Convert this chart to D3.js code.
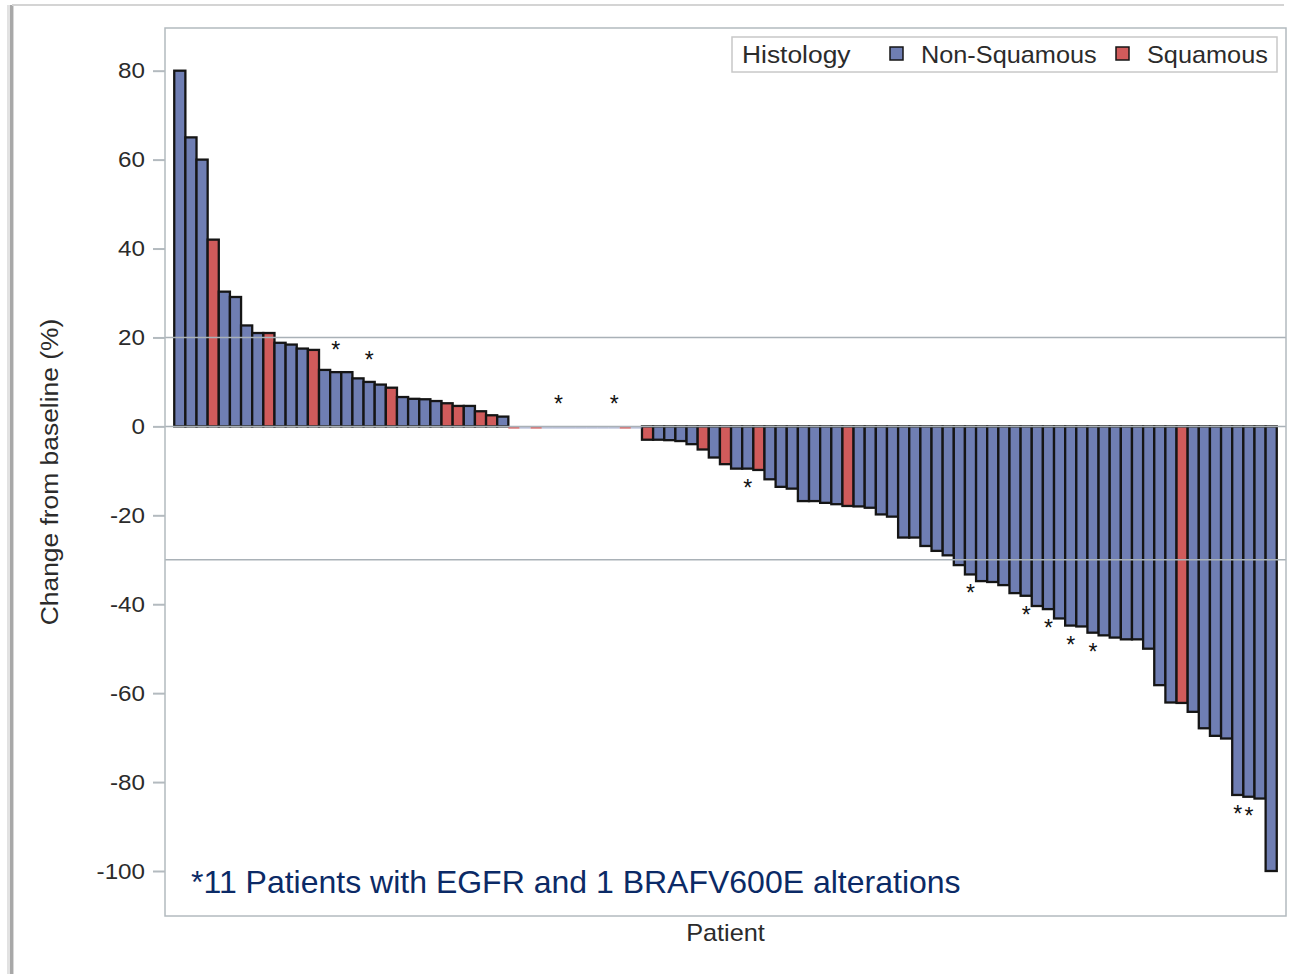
<!DOCTYPE html>
<html><head><meta charset="utf-8">
<script src="https://cdn.jsdelivr.net/npm/d3@7"></script>
<style>
body{margin:0;background:#fff;}
svg{display:block;}
text{font-family:"Liberation Sans",Arial,sans-serif;}
</style>
</head><body>
<svg id="chart" width="1294" height="974"></svg>
<script>
// ---------------- data ----------------
const patients = d3.range(1, 100);
const changes = [
  80, 65, 60, 42, 30.3, 29.1, 22.7, 21, 21, 18.8,
  18.4, 17.5, 17.2, 12.7, 12.2, 12.2, 10.8, 10, 9.4, 8.7,
  6.6, 6.2, 6.1, 5.7, 5.2, 4.6, 4.6, 3.4, 2.5, 2.2,
  0, 0, 0, 0, 0, 0, 0, 0, 0, 0,
  0, 0, -3, -3, -3.1, -3.3, -4, -5.2, -7, -8.5,
  -9.5, -9.5, -9.8, -11.9, -13.6, -14, -16.8, -16.8, -17.2, -17.5,
  -17.9, -18, -18.3, -19.8, -20.3, -25, -25, -26.9, -28, -29,
  -31.2, -33.3, -34.8, -35, -35.7, -37.5, -38.1, -40.4, -41.1, -43.2,
  -44.8, -45, -46.4, -47, -47.5, -47.9, -47.9, -50, -58.2, -62.1,
  -62.2, -64.2, -67.9, -69.6, -70.2, -82.9, -83.3, -83.7, -100
];
const histology = [
  "N","N","N","S","N","N","N","N","S","N",
  "N","N","S","N","N","N","N","N","N","S",
  "N","N","N","N","S","S","N","S","S","N",
  "S","N","S","N","N","N","N","N","N","N",
  "S","N","S","N","N","N","N","S","N","S",
  "N","N","S","N","N","N","N","N","N","N",
  "S","N","N","N","N","N","N","N","N","N",
  "N","N","N","N","N","N","N","N","N","N",
  "N","N","N","N","N","N","N","N","N","N",
  "S","N","N","N","N","N","N","N","N"
];
const alteredPatients = [15, 18, 35, 40, 52, 72, 77, 79, 81, 83, 96, 97];
const groupCodes = ["N", "S"];
const groupNames = ["Non-Squamous", "Squamous"];
const groupColors = ["#6F7EB3", "#D05B5B"];
const yTicks = [80, 60, 40, 20, 0, -20, -40, -60, -80, -100];
const refLines = [20, 0, -30];
const legendTitle = "Histology";
const xTitle = "Patient";
const yTitle = "Change from baseline (%)";
const footnote = "*11 Patients with EGFR and 1 BRAFV600E alterations";

// ---------------- layout ----------------
const svg = d3.select("#chart");
const P = {left: 165, top: 28, right: 1286, bottom: 916};
const SX = 1.1; // horizontal stretch of the original graph font
const color = d3.scaleOrdinal().domain(groupCodes).range(groupColors);

const x = d3.scaleBand().domain(patients).range([P.left, P.right])
  .paddingInner(0).paddingOuter(0.83);
const y = d3.scaleLinear().domain([-110.12, 89.6]).range([P.bottom, P.top]);

// helper for stretched text
function stext(g, tx, ty, str, size, anchor, rot) {
  return g.append("text")
    .attr("transform", `translate(${tx},${ty})` + (rot ? ` rotate(${rot})` : "") + ` scale(${SX},1)`)
    .attr("text-anchor", anchor || "start")
    .attr("font-size", size).attr("fill", "#2b2b2b").text(str);
}

// outer picture border
svg.append("rect").attr("x", 7).attr("y", 5).attr("width", 3).attr("height", 969).attr("fill", "#e2e2e2");
svg.append("rect").attr("x", 10).attr("y", 5).attr("width", 3).attr("height", 969).attr("fill", "#a8a8a8");
svg.append("rect").attr("x", 13).attr("y", 5).attr("width", 1).attr("height", 969).attr("fill", "#d8d8d8");
svg.append("rect").attr("x", 12).attr("y", 4).attr("width", 1272).attr("height", 2).attr("fill", "#d4d4d4");

const data = patients.map((p, i) => ({p, v: changes[i], h: histology[i], star: alteredPatients.includes(p)}));

// bars
const barG = svg.append("g");
barG.selectAll("rect.bar").data(data.filter(d => d.v !== 0)).join("rect")
  .attr("class", "bar")
  .attr("x", d => x(d.p))
  .attr("width", x.bandwidth())
  .attr("y", d => y(Math.max(0, d.v)))
  .attr("height", d => Math.abs(y(d.v) - y(0)))
  .attr("fill", d => color(d.h))
  .attr("stroke", "#151515")
  .attr("stroke-width", 2.3);

// zero-change bars drawn as a thin coloured sliver
barG.selectAll("rect.zero").data(data.filter(d => d.v === 0)).join("rect")
  .attr("class", "zero")
  .attr("x", d => x(d.p))
  .attr("width", x.bandwidth())
  .attr("y", y(0) + 0.5)
  .attr("height", 1.8)
  .attr("fill", d => color(d.h))
  .attr("opacity", d => d.h === "S" ? 0.85 : 0.45);

// reference lines
svg.append("g").selectAll("line").data(refLines).join("line")
  .attr("x1", P.left).attr("x2", P.right)
  .attr("y1", d => y(d)).attr("y2", d => y(d))
  .attr("stroke", "#a9b1b7").attr("stroke-width", 1.5);

// plot frame
svg.append("rect").attr("x", P.left).attr("y", P.top)
  .attr("width", P.right - P.left).attr("height", P.bottom - P.top)
  .attr("fill", "none").attr("stroke", "#b3babf").attr("stroke-width", 1.5);

// y axis
const yAxis = d3.axisLeft(y).tickValues(yTicks).tickSize(12).tickPadding(7).tickFormat(d => String(d));
const ax = svg.append("g").attr("transform", `translate(${P.left},0)`).call(yAxis);
ax.select(".domain").remove();
ax.selectAll(".tick line").attr("stroke", "#b3babf").attr("stroke-width", 2);
ax.selectAll(".tick text").attr("fill", "#2b2b2b").attr("font-size", 22)
  .attr("font-family", "'Liberation Sans', Arial, sans-serif")
  .attr("x", -20 / SX).attr("transform", `scale(${SX},1)`);

// stars
svg.append("g").selectAll("text").data(data.filter(d => d.star)).join("text")
  .attr("x", d => x(d.p) + x.bandwidth() / 2)
  .attr("y", d => d.v >= 0 ? y(d.v) - 14 : y(d.v) + 27)
  .attr("text-anchor", "middle")
  .attr("font-size", 23)
  .attr("fill", "#111")
  .text("*");

// axis titles
stext(svg, 58, (P.top + P.bottom) / 2, yTitle, 24, "middle", -90);
stext(svg, (P.left + P.right) / 2, 941, xTitle, 23, "middle");

// footnote
svg.append("text").attr("x", 191).attr("y", 893)
  .attr("font-size", 32).attr("fill", "#0b2a66")
  .text(footnote);

// legend
const L = {x: 732, y: 37, w: 545, h: 35};
const lg = svg.append("g");
lg.append("rect").attr("x", L.x).attr("y", L.y).attr("width", L.w).attr("height", L.h)
  .attr("fill", "#fff").attr("stroke", "#c8c8c8").attr("stroke-width", 1.5);
stext(lg, L.x + 10, L.y + 26, legendTitle, 24, "start");
const itemX = [L.x + 158, L.x + 384];
groupCodes.forEach((g, i) => {
  lg.append("rect").attr("x", itemX[i]).attr("y", L.y + 10).attr("width", 13).attr("height", 13)
    .attr("fill", color(g)).attr("stroke", "#141414").attr("stroke-width", 1.5);
  stext(lg, itemX[i] + 31, L.y + 26, groupNames[i], 23, "start");
});
</script>
</body></html>
